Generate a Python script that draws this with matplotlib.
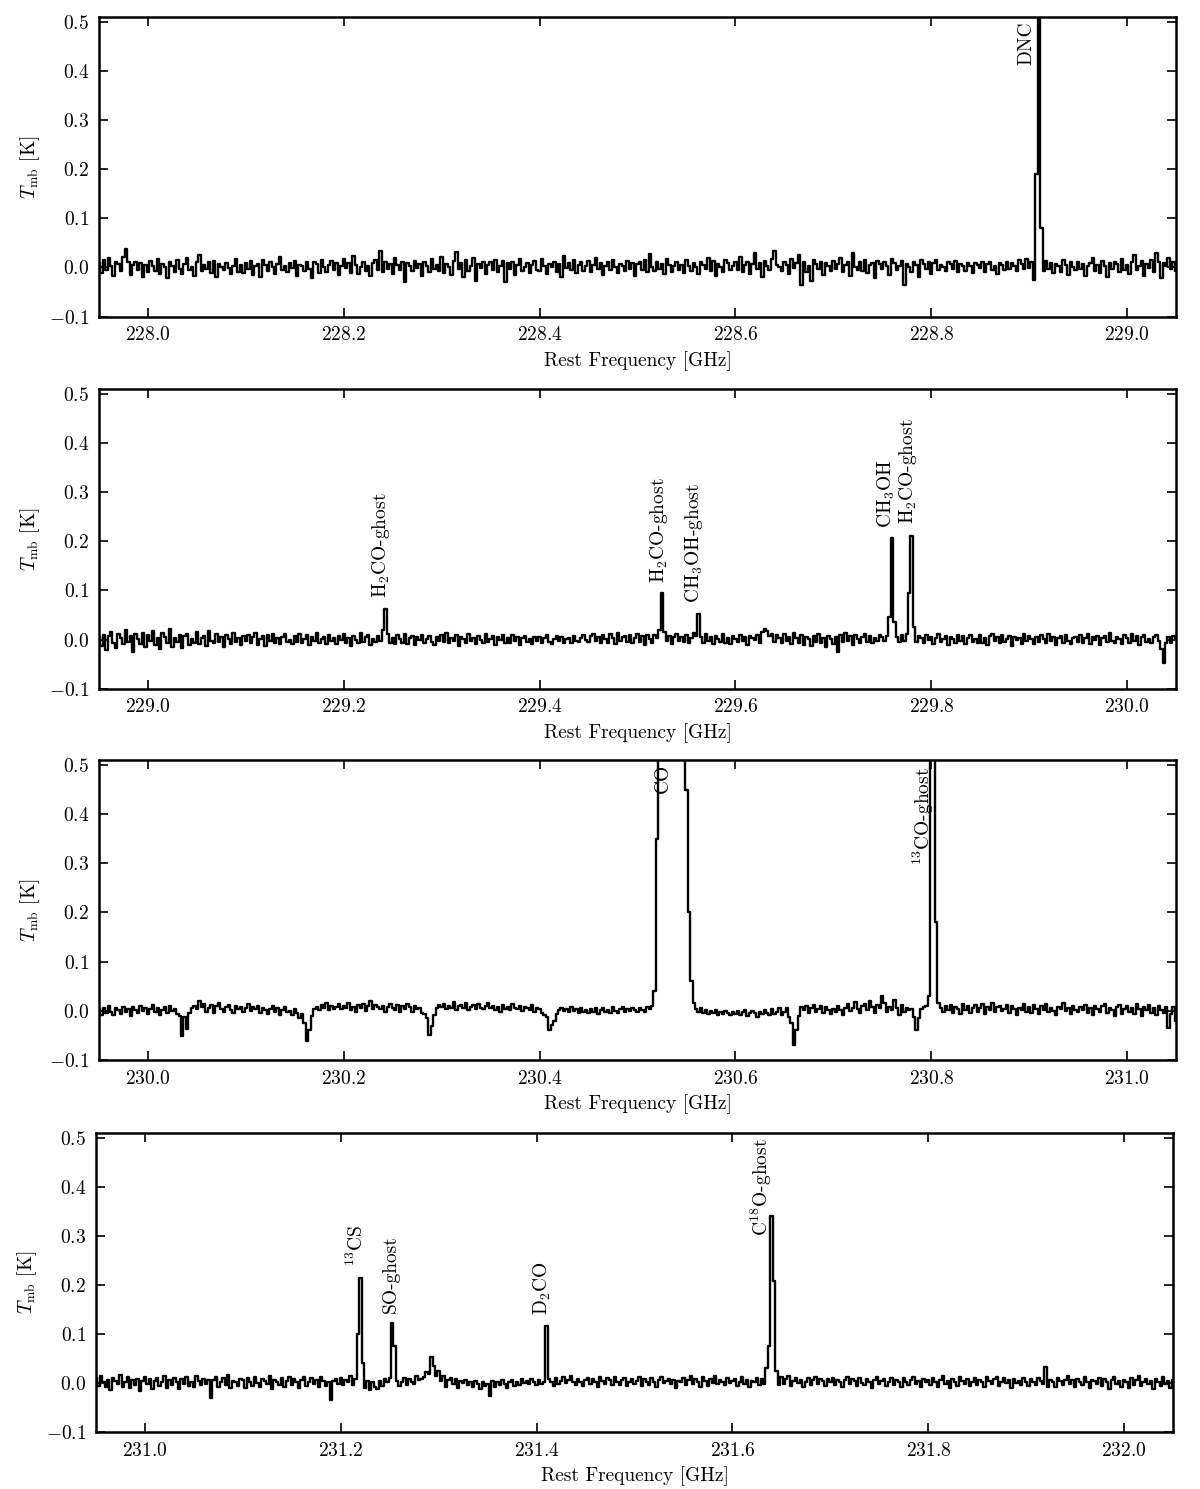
import numpy as np
import matplotlib
matplotlib.use("Agg")
import matplotlib.pyplot as plt
from matplotlib.ticker import MultipleLocator

plt.rcParams['font.family'] = 'serif'
plt.rcParams['font.serif'] = ['cmr10', 'DejaVu Serif']
plt.rcParams['mathtext.fontset'] = 'cm'
plt.rcParams['axes.formatter.use_mathtext'] = True
plt.rcParams['font.size'] = 14

# spectra, channel width 2.5 MHz, values in mK
chan = 0.0025
f_start = [227.95, 228.95, 229.95, 230.95]

tmb1 = [
    8, -12, 15, -5, 20, 3, -18, 10, 6, -8, 22, 38, 12, -15, 5, 12, -6, 9, -20, 4,
    -10, 14, 2, -7, 18, -14, 6, 0, -22, 11, 3, -9, 16, -4, -13, 7, 19, -6, 1, -17,
    12, 25, -8, 4, -3, 10, -11, 14, -19, 6, 0, -6, 9, -2, -14, 3, 17, -9, 5, -12,
    8, -4, 13, -16, 2, 7, -20, 15, 4, -8, 11, 1, -13, 6, 21, -5, 3, -10, 9, -1,
    14, -18, 5, 2, -7, 12, -3, -22, 10, 6, -11, 16, 0, -9, 4, 13, -6, 8, -15, 3,
    18, -2, 9, -12, 24, 5, -14, 1, 11, -7, 3, -17, 8, 15, -5, 33, -9, 12, -4, 7,
    -13, 20, 4, -6, 10, -30, 9, 3, -8, 14, -1, 6, -18, 11, 2, -10, 17, -3, 5, -7,
    22, -11, 6, 0, -15, 13, 32, -4, 9, -20, 15, -8, 3, 19, -27, 7, -2, 12, -14, 5,
    10, -6, 16, -9, 2, 14, -30, 8, -3, 11, -16, 5, 18, -7, 0, 9, -12, 4, 13, -5,
    -8, 17, 3, -14, 7, 1, 12, -10, 6, -19, 24, -2, 8, -6, 15, -11, 4, 10, -7, 2,
    13, -9, 5, 20, -4, 8, -15, 3, 11, -6, 16, 0, -12, 7, 2, -8, 14, -3, 9, -17,
    6, 11, -5, 15, -10, 28, 1, -7, 12, -3, 7, -14, 18, 4, -9, 2, 10, -6, 5, -11,
    16, 3, -8, 9, 0, -13, 11, 5, -4, 20, -7, 13, -18, 6, 1, -10, 15, 8, -6, 3,
    12, -5, 22, -9, 4, 10, -14, 7, 30, -3, 9, -20, 14, 2, -6, 17, 33, 5, 0, -8,
    10, 4, -13, 18, -2, 8, 25, -36, 12, -9, 3, -28, 15, 6, -4, 11, -16, 9, 2, -7,
    14, -3, 7, 19, -10, 5, 12, -18, 30, 1, -5, 10, -8, 16, -12, 4, 9, -22, 13, 6,
    -4, 11, 2, -15, 17, 8, -6, 3, 14, -35, 6, 0, -9, 12, 5, -20, 15, 7, -3, 10,
    -13, 9, 16, -5, 4, 1, -8, 11, 7, -4, 13, -10, 6, 3, -7, 9, 2, -12, 8, 5,
    -2, 12, -9, 6, 10, -5, 3, -14, 8, 4, -6, 11, -3, 9, 2, -8, 15, 6, -4, 18,
    -2, 10, -25, 190, 1500, 80, -7, 14, -3, 8, -12, 6, 2, -9, 16, 4, -15, 10, 1, -6,
    12, -4, 7, -18, 3, 9, 20, -7, 5, -11, 14, 2, -20, 8, -3, 11, 6, -9, 17, -5,
    4, -13, 10, 25, -6, 2, 13, -17, 7, -2, 15, -9, 30, 11, -22, 8, 3, 19, -4, 10,
    -8,
]

tmb2 = [
    5, -14, 10, -22, 8, 15, -6, -18, 12, 3, -10, 20, -4, 7, -25, 11, 2, -9, 14, -16,
    9, -3, 17, -12, 4, -20, 13, 6, -8, 22, -15, 3, -5, 10, -18, 7, 12, -11, 1, -6,
    15, -9, 3, 8, -13, 18, -2, -7, 11, -4, 6, -16, 9, 2, -10, 14, -5, 4, -12, 8,
    -3, 10, -8, 5, 13, -11, 1, 7, -14, 9, -2, 12, -6, 3, -9, 6, 11, -4, 0, -10,
    7, -5, 12, -8, 2, 9, -12, 5, -3, 14, -7, 1, 6, -10, 10, -2, 4, -9, 8, -1,
    11, -6, 3, -13, 7, 0, -8, 13, -4, 5, 9, -11, 2, -5, 8, -3, 20, 62, 12, -7,
    4, -10, 9, 2, -6, 12, -9, 3, 7, -12, 5, -1, 10, -7, 1, 8, -4, -11, 6, -2,
    9, -5, 13, -8, 3, -2, 10, -13, 6, 1, -7, 11, -3, 4, -9, 7, 0, -6, 12, -4,
    2, 8, -11, 5, -1, 9, -6, 3, -8, 10, -3, 6, -12, 4, 7, -5, 1, -9, 5, -2,
    6, -7, 3, 9, -4, -10, 2, 7, -3, 5, -8, 1, 4, -6, 8, -2, -5, 3, 10, -1,
    -4, 7, 12, -3, 5, -8, 9, 2, -6, 11, 4, -9, 13, -2, 6, 8, -5, 10, -7, 3,
    12, -4, 7, -11, 9, 1, -6, 10, 3, 20, 94, 15, -3, 8, -9, 5, 12, -2, 6, -5,
    10, -8, 4, 13, 8, 53, 6, -7, 11, -2, 5, -10, 8, 1, -4, 12, -6, 3, -9, 7,
    2, -5, 10, -3, 6, -12, 8, 4, -1, 9, -7, 15, 22, 18, 7, 12, -4, 9, 3, -8,
    11, -2, 6, -9, 14, 3, -6, 10, -11, 5, 1, -13, 8, -4, 12, -8, 4, -15, 7, 2,
    -10, 6, -25, 9, -5, 13, -3, 7, -12, 10, 2, -7, 5, 11, -4, 8, -6, 3, -2, 9,
    5, -3, 8, 45, 206, 35, 6, -4, 9, -2, 12, 95, 211, 25, -5, 7, 3, -8, 10, -1,
    6, -9, 4, 11, -5, 2, 8, -12, 5, 1, -6, 9, -3, 7, -10, 4, 10, -4, 2, -7,
    9, -6, 3, -11, 7, 12, -2, 5, -8, 10, -4, 1, 8, -13, 6, -1, 4, -9, 11, -3,
    7, 2, -10, 6, -5, 9, 1, -7, 12, -3, 5, -12, 3, 8, -6, 10, -2, -9, 4, 6,
    -4, 10, -7, 3, 12, -9, 5, -1, 8, -11, 4, 7, -5, 13, -2, -8, 6, 1, -10, 9,
    3, -6, 11, -2, 7, -12, 5, 9, -4, 2, -8, 6, 10, -3, -20, -48, -8, 5, -6, 8,
    4,
]

tmb3 = [
    3, -8, 6, -4, 10, -2, -9, 5, 1, -6, 8, -3, 4, -10, 7, 2, -5, 9, -1, 6,
    -7, 4, 11, -3, 5, -8, 2, 7, -4, 9, -1, 3, -6, -10, -51, -12, -36, -5, 6, 10,
    3, 20, 8, 14, -2, 6, 11, -4, 9, 16, 3, -3, 7, 12, 2, -5, 10, 4, 8, -2,
    5, 13, -1, 7, 3, 10, -4, 6, 1, -6, 4, 9, -2, 5, -8, 2, 7, -3, -1, -9,
    3, -5, -14, -6, -25, -61, -40, -10, 4, 8, 2, 12, 5, 16, 1, 9, 3, 7, 13, 4,
    10, 6, 15, 2, 8, -3, 11, 5, 14, 0, 9, 20, 4, 12, 7, 3, 10, -2, 8, 13,
    6, 2, 11, -3, 9, 4, 14, 7, -2, 10, 3, 5, -4, -6, -15, -49, -30, -8, 6, 12,
    8, 14, 3, 10, 5, 18, 2, 9, 12, 6, 15, 1, 7, 11, 4, 13, 6, 3, 9, 16,
    5, 10, 2, 7, -3, 12, 4, 8, 1, 14, 6, 3, 10, -1, 8, 5, 2, 11, -2, 6,
    3, -5, -8, -12, -40, -28, -20, -6, 2, 5, -1, 4, -3, 7, 0, 3, -4, 6, -2, 1,
    -5, 4, -2, 6, -6, 2, 5, -3, 1, -4, 7, 0, -5, 3, 8, -2, 4, -1, 6, 2,
    -3, 5, 1, -2, 7, 3, 10, 40, 350, 3000, 3000, 3000, 3000, 3000, 3000, 3000, 3000, 3000, 3000, 3000,
    450, 200, 60, 15, 3, -2, 5, -4, 1, -6, -1, -5, 2, -8, -3, -7, 0, -4, -9, -2,
    -6, -1, -8, -3, 2, -10, -5, 0, -4, -12, -2, -7, 1, -5, -9, 3, -6, -3, 5, -8,
    -2, 6, -12, -25, -70, -40, -10, 8, 2, 10, -4, 5, 12, -2, 3, 9, -5, 7, 1, -6,
    4, -3, 10, 2, -8, 6, 13, -1, 5, 18, 3, -4, 9, 14, 1, 20, 8, -5, 11, 6,
    30, 15, -3, 8, 2, 22, 5, -9, 12, -2, 6, 1, 4, -12, -38, -15, 3, 7, 10, 30,
    1500, 900, 180, 15, 6, -3, 10, 2, 12, -5, 8, 4, -7, 14, 1, 9, -4, 6, 11, -2,
    5, 13, -6, 8, 2, 16, -3, 7, 10, -1, 4, 12, -5, 9, 3, -8, 6, 1, 14, -2,
    7, -4, 11, 3, -7, 9, 2, 13, -3, 6, 0, -9, 8, 4, 15, -1, 5, -6, 10, 2,
    -3, 8, 1, 12, -5, 6, -8, 10, 3, -2, 9, 14, -4, 5, 1, -10, 7, 11, -6, 4,
    9, -2, 6, -7, 13, 3, -11, 8, 1, 12, -4, 5, -8, 10, 2, -5, 7, -35, -6, 8,
    -20,
]

tmb4 = [
    10, -6, 14, 3, -9, 7, -14, 11, 5, -3, 16, -8, 2, 12, -11, 6, -4, 9, -16, 4,
    13, -2, 8, -12, 5, 10, -7, 2, 15, -10, 6, -5, 11, 1, -13, 8, -3, 12, -6, 3,
    -9, 14, 4, -5, 9, -2, 6, -30, 7, 12, -8, 3, 10, -4, 17, -11, 5, 1, -7, 9,
    6, -10, 11, 2, -6, 13, 0, -9, 8, 4, -3, 14, -12, 7, 2, -5, 10, -8, 5, 12,
    -4, 8, 1, -11, 7, 13, -6, 3, 10, -2, 6, -9, 12, 4, -7, 2, -35, 5, 9, -3,
    11, -5, 7, 2, 14, -4, 8, 100, 214, 40, -10, 5, -14, 3, -8, -12, 4, -6, 9, 2,
    10, 122, 75, 5, -7, 3, 11, -4, 8, 2, -3, 14, 6, 9, 12, 22, 18, 53, 35, 14,
    25, 5, 15, -8, 6, 11, -2, 9, -11, 4, 0, 7, -5, 3, -9, 5, -2, -12, 2, -6,
    -3, -27, 4, -8, 1, -5, 6, -2, -10, 3, 7, -6, 2, -4, 9, -1, 5, -3, 8, 1,
    -5, 6, -2, 3, 117, 8, 2, -6, 10, -3, 5, 12, -1, 7, 14, 3, -4, 9, 2, -7,
    6, 11, -3, 8, 1, -8, 12, 4, -2, 10, 6, -5, 13, 2, -4, 7, 11, -6, 3, 9,
    -2, 5, 12, -7, 8, 3, -4, 10, 1, -9, 6, 13, -1, 4, 9, -3, 7, -10, 5, 2,
    11, -4, 6, 15, -2, 8, 3, -8, 12, 5, -6, 9, 0, 14, -3, 7, 2, -5, 10, -1,
    4, 9, -6, 3, 12, -2, 7, -9, 5, 1, 10, -4, 8, -3, 30, 75, 341, 208, 25, -5,
    12, -3, 8, 14, -6, 5, 10, -1, 7, -8, 3, 11, -4, 6, 13, -2, 9, 4, -7, 8,
    2, 10, -5, 7, 1, -9, 6, 12, -3, 8, 4, -6, 11, 0, -4, 9, 3, -10, 6, 13,
    -2, 5, 9, -7, 3, 11, -4, 6, 1, -8, 10, 2, -5, 7, 12, -3, 4, -9, 8, 1,
    6, -4, 11, 3, -8, 7, 14, -2, 5, -10, 9, 1, -6, 12, 4, -3, 8, -7, 2, 10,
    -5, 7, 2, -9, 12, 4, -3, 8, 13, -6, 3, 10, -1, 6, -11, 9, 0, 5, -4, 11,
    3, -7, 8, 1, -4, 10, 5, -2, 32, -8, 6, 2, -9, 11, 4, -5, 7, 14, -3, 6,
    -8, 9, 3, -5, 12, 1, -10, 7, 4, -3, 11, -6, 8, 2, -12, 6, 13, -2, 5, -9,
    7, 2, -11, 10, -4, 6, 14, -7, 3, 9, -2, 5, -13, 8, 1, -6, 12, -3, 4, -10,
    6,
]

# line identifications: (label, frequency of label, Tmb at label foot)
labels1 = [("DNC", 228.8975, 0.412)]
labels2 = [
    (r"H$_2$CO-ghost", 229.238, 0.085),
    (r"H$_2$CO-ghost", 229.5218, 0.115),
    (r"CH$_3$OH-ghost", 229.5577, 0.074),
    (r"CH$_3$OH", 229.7543, 0.228),
    (r"H$_2$CO-ghost", 229.7766, 0.235),
]
labels3 = [
    ("CO", 230.5258, 0.443),
    (r"$^{13}$CO-ghost", 230.7922, 0.2965),
]
labels4 = [
    (r"$^{13}$CS", 231.2163, 0.239),
    ("SO-ghost", 231.251, 0.143),
    (r"D$_2$CO", 231.4057, 0.138),
    (r"C$^{18}$O-ghost", 231.6296, 0.30),
]

spectra = [tmb1, tmb2, tmb3, tmb4]
all_labels = [labels1, labels2, labels3, labels4]

W, H = 1200, 1489
fig = plt.figure(figsize=(W / 100, H / 100), dpi=100)

# axes boxes in pixels: left, top, right, bottom
boxes = [(99, 17, 1176, 316.5), (99, 389, 1176, 688.7),
         (99, 760, 1176, 1060), (96, 1133, 1173, 1432)]

for i in range(4):
    l, t, r, b = boxes[i]
    ax = fig.add_axes([l / W, 1 - b / H, (r - l) / W, (b - t) / H])
    f0 = f_start[i]
    y = np.array(spectra[i]) / 1000.0
    x = f0 + chan * np.arange(len(y))
    ax.plot(x, y, color='black', lw=1.7, drawstyle='steps-mid')

    for txt, fx, fy in all_labels[i]:
        ax.text(fx, fy, txt, rotation=90, ha='center', va='bottom', fontsize=14)

    ax.set_xlim(f0, f0 + 1.1)
    ax.set_ylim(-0.1, 0.51)
    ax.xaxis.set_major_locator(MultipleLocator(0.2))
    ax.yaxis.set_major_locator(MultipleLocator(0.1))
    ax.ticklabel_format(useOffset=False)
    ax.tick_params(direction='in', top=True, right=True, length=6.5, width=1.2,
                   labelsize=14, pad=7)
    for sp in ax.spines.values():
        sp.set_linewidth(1.8)
    ax.set_xlabel('Rest Frequency [GHz]', fontsize=14)
    ax.set_ylabel(r'$T_{\rm mb}$ [K]', fontsize=14)
    ax.xaxis.set_label_coords(0.5, -0.115)
    ax.yaxis.set_label_coords(-0.053, 0.5)

fig.savefig('out.png', dpi=100)
